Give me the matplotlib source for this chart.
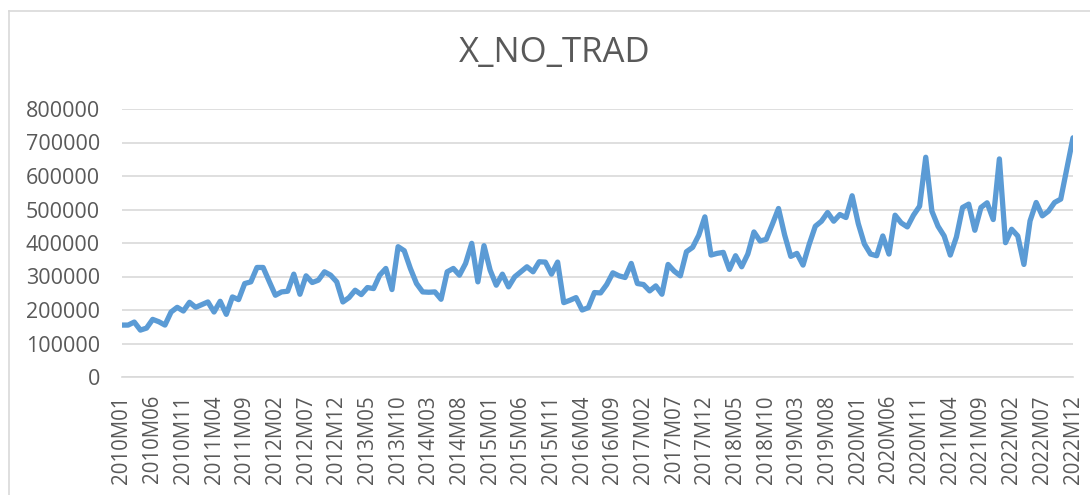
import matplotlib
matplotlib.use('Agg')
import matplotlib.pyplot as plt
from matplotlib.lines import Line2D

# Monthly periods 2010M01 .. 2022M12
years = list(range(2010, 2023))
months = [f"{y}M{m:02d}" for y in years for m in range(1, 13)]

# Values (thousands)
x_no_trad_k = [
    155, 155, 164, 140, 146, 172, 165, 155, 194, 208, 197, 223,
    208, 216, 224, 194, 226, 187, 239, 231, 279, 284, 327, 327,
    285, 244, 254, 256, 307, 247, 302, 282, 289, 314, 304, 284,
    224, 237, 259, 246, 267, 264, 304, 324, 261, 389, 377, 324,
    279, 254, 253, 254, 232, 314, 324, 304, 339, 399, 284, 392,
    319, 274, 307, 269, 299, 314, 329, 314, 344, 343, 307, 343,
    222, 229, 237, 200, 207, 252, 251, 276, 311, 302, 297, 339,
    279, 276, 257, 272, 247, 336, 316, 302, 374, 387, 423, 478,
    364, 369, 372, 321, 362, 329, 367, 433, 406, 411, 456, 503,
    424, 360, 369, 334, 396, 450, 465, 491, 465, 485, 476, 541,
    458, 397, 367, 362, 421, 367, 483, 460, 448, 483, 510, 656,
    495, 450, 421, 364, 418, 506, 516, 438, 506, 520, 470, 651,
    401, 441, 421, 336, 466, 521, 481, 495, 521, 531, 623, 714,
]
values = [v * 1000 for v in x_no_trad_k]

y_ticks = list(range(0, 800001, 100000))
label_step = 5

TEXT = '#595959'
GRID = '#D9D9D9'
LINE = '#5B9BD5'

plt.rcParams['font.family'] = ['Open Sans', 'DejaVu Sans']

fig = plt.figure(figsize=(10.9, 4.95), dpi=100)
ax = fig.add_axes([122 / 1090, 1 - 377 / 495, (1073 - 122) / 1090, (377 - 109) / 495])

x = list(range(len(values)))
ax.plot(x, values, color=LINE, linewidth=3.8, solid_capstyle='round',
        solid_joinstyle='round', zorder=3)

ax.set_xlim(0, len(values) - 1)
ax.set_ylim(0, 800000)
ax.set_yticks(y_ticks)
ax.set_yticklabels([str(t) for t in y_ticks])
ax.yaxis.grid(True, color=GRID, linewidth=1.2)
ax.set_axisbelow(True)

tick_pos = x[::label_step]
ax.set_xticks(tick_pos)
ax.set_xticklabels([months[i] for i in tick_pos], rotation=90, va='top', ha='center')

for side in ('top', 'right', 'left'):
    ax.spines[side].set_visible(False)
ax.spines['bottom'].set_color(GRID)
ax.spines['bottom'].set_linewidth(1.2)

ax.tick_params(axis='y', length=0, pad=16, labelsize=15.5, labelcolor=TEXT)
ax.tick_params(axis='x', length=0, pad=13, labelsize=14.8, labelcolor=TEXT)

fig.text(555 / 1090, 1 - 53 / 495, 'X_NO_TRAD', ha='center', va='center',
         fontsize=25, color=TEXT)

# chart-area border (only top and left edges visible in the crop)
fig.add_artist(Line2D([9 / 1090, 9 / 1090], [0, 1 - 11 / 495],
                      transform=fig.transFigure, color=GRID, linewidth=1.2))
fig.add_artist(Line2D([9 / 1090, 1], [1 - 11 / 495, 1 - 11 / 495],
                      transform=fig.transFigure, color=GRID, linewidth=1.2))

fig.savefig('out.png', dpi=100)
plt.close(fig)
